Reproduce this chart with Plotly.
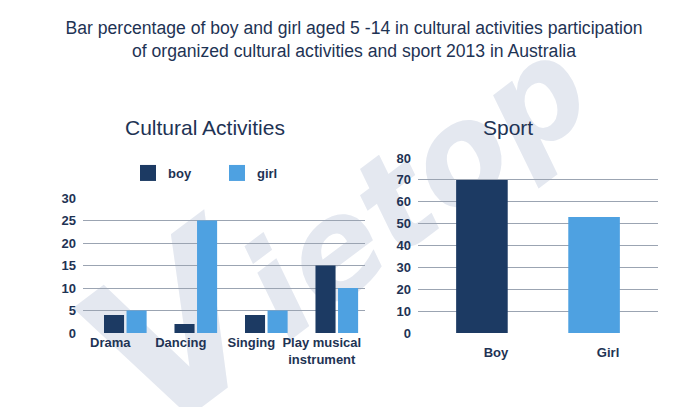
import base64
import plotly.graph_objects as go

# Data
activities = ['Drama', 'Dancing', 'Singing', 'Play musical<br>instrument']
boy_cultural = [4, 2, 4, 15]
girl_cultural = [5, 25, 5, 10]

sport_labels = ['Boy', 'Girl']
sport_values = [70, 53]

BOY = '#1c3a63'
GIRL = '#4ea1e1'
NAVY = '#1e3354'
GRID = '#9ba4b2'
FONT = 'Liberation Sans, Arial, sans-serif'

# the page body keeps its default 8px margin, so the figure is drawn 8px in
W, H, OFF = 692, 399, 8


def px(x):
    return (x - OFF) / W


def py(y):
    return 1 - (y - OFF) / H


fig = go.Figure()

fig.add_trace(go.Bar(x=activities, y=boy_cultural, name='boy', showlegend=False,
                     marker=dict(color=BOY, line_width=0), xaxis='x', yaxis='y'))
fig.add_trace(go.Bar(x=activities, y=girl_cultural, name='girl', showlegend=False,
                     marker=dict(color=GIRL, line_width=0), xaxis='x', yaxis='y'))
fig.add_trace(go.Bar(x=sport_labels, y=sport_values, width=0.46, showlegend=False,
                     marker=dict(color=[BOY, GIRL], line_width=0), xaxis='x2', yaxis='y2'))

# legend entries with bigger square swatches
for name, color in [('boy', BOY), ('girl', GIRL)]:
    fig.add_trace(go.Scatter(x=[None], y=[None], mode='markers', name=name,
                             marker=dict(symbol='square', size=16, color=color),
                             xaxis='x', yaxis='y'))

# faint background watermark
svg = (
    f'<svg xmlns="http://www.w3.org/2000/svg" width="{W}" height="{H}" viewBox="0 0 {W} {H}">'
    '<text x="345" y="275" text-anchor="middle" font-family="DejaVu Sans" font-weight="bold" '
    'font-style="italic" fill="#e4e8f0" transform="rotate(-37 345 235)">'
    '<tspan font-size="215">V</tspan><tspan font-size="135">ietop</tspan></text>'
    '</svg>'
)
fig.add_layout_image(dict(
    source='data:image/svg+xml;base64,' + base64.b64encode(svg.encode()).decode(),
    xref='paper', yref='paper', x=0, y=1, sizex=1, sizey=1,
    sizing='stretch', xanchor='left', yanchor='top', layer='below'
))

tickfont = dict(family=FONT, size=13, color=NAVY, weight='bold')

fig.update_layout(
    width=W, height=H,
    margin=dict(l=0, r=0, t=0, b=0),
    paper_bgcolor='white',
    plot_bgcolor='rgba(0,0,0,0)',
    barmode='group',
    bargap=0.36,
    bargroupgap=0.11,
    title=dict(
        text='Bar percentage of boy and girl aged 5 -14 in cultural activities participation'
             '<br>of organized cultural activities and sport 2013 in Australia',
        font=dict(family=FONT, size=17.6, color=NAVY),
        x=px(354), xanchor='center', y=0.934, yanchor='top', automargin=False
    ),
    xaxis=dict(domain=[px(83), px(365)], range=[-0.6, 3.4], showgrid=False,
               tickfont=tickfont, ticks='', ticklabelshift=-15, automargin=False,
               fixedrange=True),
    yaxis=dict(domain=[py(333), py(198)], range=[0, 30], dtick=5,
               showgrid=True, gridcolor=GRID, gridwidth=1, zeroline=False,
               tickfont=tickfont, ticks='', ticklabelstandoff=6, automargin=False),
    xaxis2=dict(domain=[px(418), px(658)], range=[-0.57, 1.57], showgrid=False,
                tickfont=tickfont, ticks='', ticklabelshift=14, ticklabelstandoff=10,
                anchor='y2', automargin=False),
    yaxis2=dict(domain=[py(333), py(158)], range=[0, 80], dtick=10,
                showgrid=True, gridcolor=GRID, gridwidth=1, zeroline=False,
                tickfont=tickfont, ticks='', ticklabelstandoff=6, anchor='x2',
                automargin=False),
    legend=dict(orientation='h', x=px(128), xanchor='left', y=py(173), yanchor='middle',
                font=dict(family=FONT, size=13, color=NAVY, weight='bold'),
                entrywidth=44, entrywidthmode='pixels', bgcolor='rgba(0,0,0,0)'),
    annotations=[
        dict(text='Cultural Activities', x=px(205), y=py(127), xref='paper', yref='paper',
             xanchor='center', yanchor='middle', showarrow=False,
             font=dict(family=FONT, size=21, color=NAVY)),
        dict(text='Sport', x=px(508), y=py(127), xref='paper', yref='paper',
             xanchor='center', yanchor='middle', showarrow=False,
             font=dict(family=FONT, size=21, color=NAVY)),
    ],
)

fig.write_html('out.html')
